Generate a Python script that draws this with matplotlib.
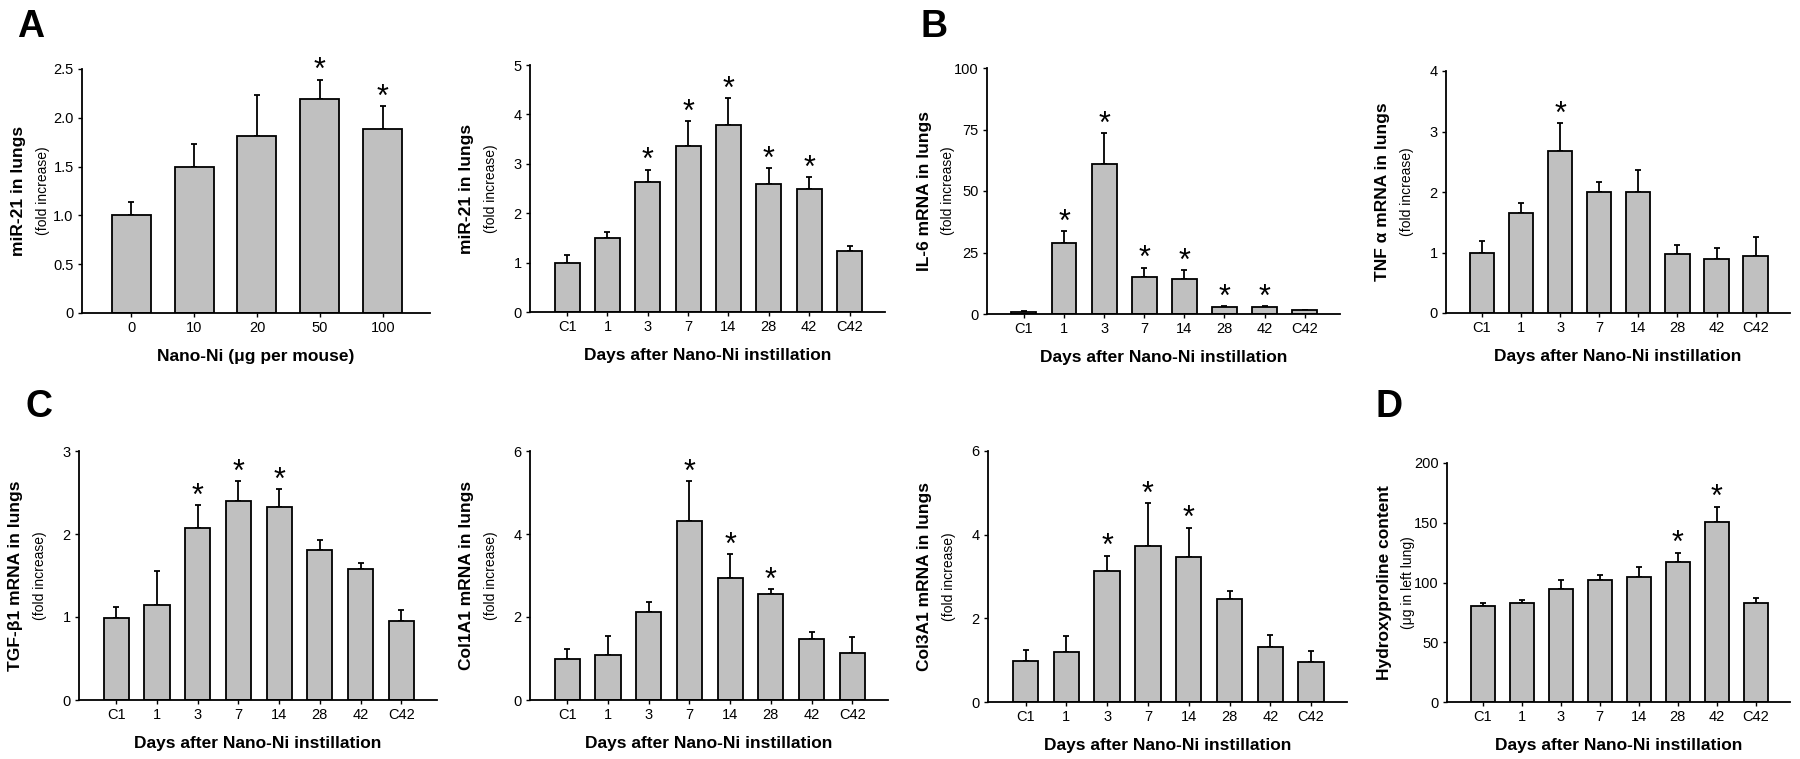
import matplotlib.pyplot as plt
import numpy as np

plt.rcParams['font.family'] = ['Liberation Sans', 'DejaVu Sans']

# categories
dose = ["0", "10", "20", "50", "100"]
days = ["C1", "1", "3", "7", "14", "28", "42", "C42"]

# A: miR-21 vs dose
mir21_dose = [1.0, 1.5, 1.81, 2.19, 1.89]
mir21_dose_err = [0.14, 0.23, 0.42, 0.20, 0.23]
mir21_dose_sig = [0, 0, 0, 1, 1]

# A: miR-21 time course
mir21_time = [1.0, 1.49, 2.63, 3.37, 3.78, 2.59, 2.48, 1.24]
mir21_time_err = [0.15, 0.12, 0.25, 0.50, 0.55, 0.32, 0.25, 0.10]
mir21_time_sig = [0, 0, 1, 1, 1, 1, 1, 0]

# B: IL-6
il6 = [1.0, 28.7, 60.9, 15.2, 14.1, 2.8, 2.8, 1.6]
il6_err = [0.3, 5.1, 12.7, 3.7, 3.8, 0.3, 0.3, 0.2]
il6_sig = [0, 1, 1, 1, 1, 1, 1, 0]

# B: TNF-alpha
tnfa = [1.0, 1.66, 2.68, 2.0, 2.0, 0.97, 0.90, 0.94]
tnfa_err = [0.19, 0.15, 0.46, 0.16, 0.36, 0.16, 0.18, 0.32]
tnfa_sig = [0, 0, 1, 0, 0, 0, 0, 0]

# C: TGF-b1
tgfb1 = [0.99, 1.14, 2.07, 2.40, 2.33, 1.81, 1.58, 0.95]
tgfb1_err = [0.13, 0.42, 0.28, 0.24, 0.21, 0.12, 0.07, 0.13]
tgfb1_sig = [0, 0, 1, 1, 1, 0, 0, 0]

# C: Col1A1
col1a1 = [0.99, 1.09, 2.13, 4.32, 2.94, 2.56, 1.47, 1.14]
col1a1_err = [0.23, 0.45, 0.22, 0.96, 0.58, 0.11, 0.18, 0.37]
col1a1_sig = [0, 0, 0, 1, 1, 1, 0, 0]

# C: Col3A1
col3a1 = [0.98, 1.19, 3.13, 3.72, 3.46, 2.47, 1.31, 0.95]
col3a1_err = [0.27, 0.38, 0.37, 1.04, 0.71, 0.19, 0.30, 0.26]
col3a1_sig = [0, 0, 1, 1, 1, 0, 0, 0]

# D: hydroxyproline
hyp = [80.0, 83.0, 94.3, 101.8, 104.6, 117.2, 150.3, 82.6]
hyp_err = [3.0, 2.6, 7.7, 4.2, 8.1, 7.8, 13.2, 4.1]
hyp_sig = [0, 0, 0, 0, 0, 1, 1, 0]

W, H = 1800, 759
fig = plt.figure(figsize=(W / 100, H / 100), dpi=100)


def px_axes(x0, x1, ytop, ybot):
    return fig.add_axes([x0 / W, 1 - ybot / H, (x1 - x0) / W, (ybot - ytop) / H])


def draw(ax, cats, vals, errs, sig, ymax, yticks, ylabels, main, sub, xlabel, xl=-0.92, xr=0.88):
    x = np.arange(len(cats))
    ax.errorbar(x, vals, yerr=[np.zeros(len(vals)), errs], fmt='none', ecolor='black',
                elinewidth=1.3, capsize=2.5, capthick=1.3, zorder=1)
    ax.bar(x, vals, width=0.62, color='#c0c0c0', edgecolor='black', linewidth=1.3, zorder=2)
    for xi, v, e, s in zip(x, vals, errs, sig):
        if s:
            ax.annotate('*', xy=(xi, v + e), xytext=(0, 6), textcoords='offset points',
                        ha='center', va='center', fontsize=22)
    ax.set_xlim(xl, len(cats) - 1 + xr)
    ax.set_ylim(0, ymax)
    ax.set_xticks(x)
    ax.set_xticklabels(cats, fontsize=10.5)
    ax.set_yticks(yticks)
    ax.set_yticklabels(ylabels, fontsize=10.5)
    ax.tick_params(length=3, width=1, pad=3)
    for s in ['top', 'right']:
        ax.spines[s].set_visible(False)
    for s in ['left', 'bottom']:
        ax.spines[s].set_linewidth(1.3)
    ax.annotate(main, xy=(0, 0.5), xycoords='axes fraction', xytext=(-63 * 0.72, 0),
                textcoords='offset points', rotation=90, ha='center', va='center',
                fontsize=12.5, fontweight='bold')
    ax.annotate(sub, xy=(0, 0.5), xycoords='axes fraction', xytext=(-39 * 0.72, 0),
                textcoords='offset points', rotation=90, ha='center', va='center',
                fontsize=10)
    ax.set_xlabel(xlabel, fontsize=12.5, fontweight='bold', labelpad=10)


xlab = "Days after Nano-Ni instillation"

ax = px_axes(82, 430, 69, 313)
draw(ax, dose, mir21_dose, mir21_dose_err, mir21_dose_sig, 2.5,
     [0, 0.5, 1, 1.5, 2, 2.5], ["0", "0.5", "1.0", "1.5", "2.0", "2.5"],
     "miR-21 in lungs", "(fold increase)", "Nano-Ni (μg per mouse)", xl=-0.78, xr=0.75)

ax = px_axes(530, 885, 65, 312)
draw(ax, days, mir21_time, mir21_time_err, mir21_time_sig, 5,
     range(6), [str(i) for i in range(6)],
     "miR-21 in lungs", "(fold increase)", xlab)

ax = px_axes(987, 1340, 68, 314)
draw(ax, days, il6, il6_err, il6_sig, 100,
     [0, 25, 50, 75, 100], ["0", "25", "50", "75", "100"],
     "IL-6 mRNA in lungs", "(fold increase)", xlab)

ax = px_axes(1446, 1790, 71, 313)
draw(ax, days, tnfa, tnfa_err, tnfa_sig, 4,
     range(5), [str(i) for i in range(5)],
     "TNF α mRNA in lungs", "(fold increase)", xlab)

ax = px_axes(79, 437, 451, 700)
draw(ax, days, tgfb1, tgfb1_err, tgfb1_sig, 3,
     range(4), [str(i) for i in range(4)],
     "TGF-β1 mRNA in lungs", "(fold increase)", xlab)

ax = px_axes(530, 888, 451, 700)
draw(ax, days, col1a1, col1a1_err, col1a1_sig, 6,
     [0, 2, 4, 6], ["0", "2", "4", "6"],
     "Col1A1 mRNA in lungs", "(fold increase)", xlab)

ax = px_axes(988, 1347, 451, 702)
draw(ax, days, col3a1, col3a1_err, col3a1_sig, 6,
     [0, 2, 4, 6], ["0", "2", "4", "6"],
     "Col3A1 mRNA in lungs", "(fold increase)", xlab)

ax = px_axes(1447, 1790, 463, 702)
draw(ax, days, hyp, hyp_err, hyp_sig, 200,
     [0, 50, 100, 150, 200], ["0", "50", "100", "150", "200"],
     "Hydroxyproline content", "(μg in left lung)", xlab)

# panel letters
for letter, px, py in [("A", 31, 27), ("B", 934, 27), ("C", 39, 407), ("D", 1389, 407)]:
    fig.text(px / W, 1 - py / H, letter, fontsize=27, fontweight='bold', ha='center', va='center')

fig.savefig("out.png", dpi=100)
